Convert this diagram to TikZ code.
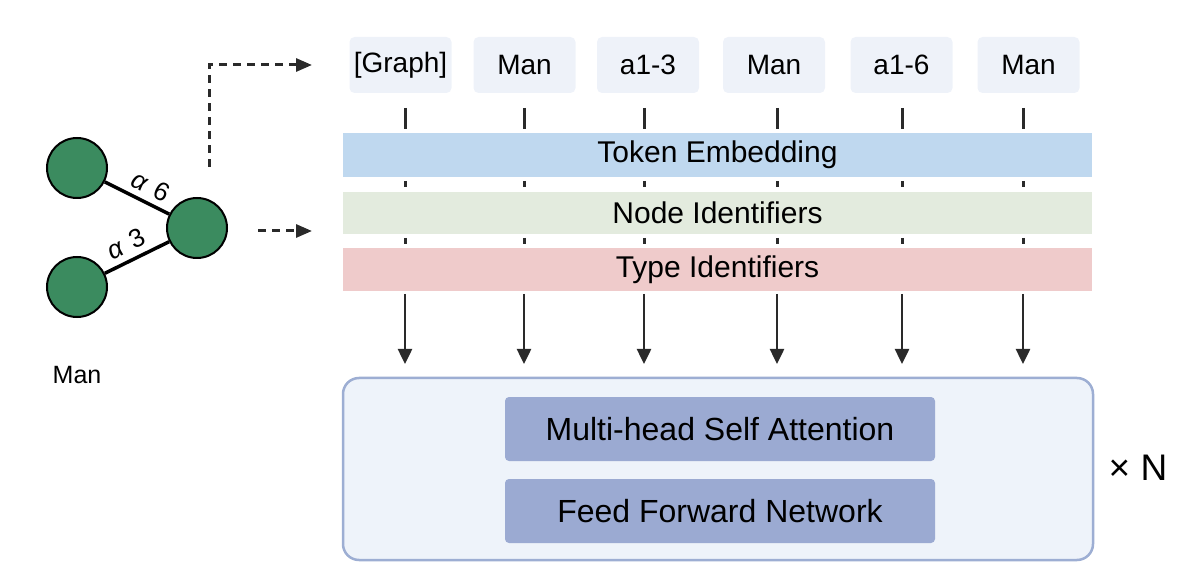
\documentclass[tikz,border=0pt]{standalone}
\usepackage{fontspec}
\setmainfont{Liberation Sans}
\usetikzlibrary{arrows.meta}
\definecolor{tokfill}{HTML}{EEF2F9}
\definecolor{embfill}{HTML}{BFD8EF}
\definecolor{nodefill}{HTML}{E3EBDE}
\definecolor{typefill}{HTML}{EFCBCB}
\definecolor{bigfill}{HTML}{EEF3FA}
\definecolor{bigdraw}{HTML}{9DAED3}
\definecolor{innerfill}{HTML}{9BAAD2}
\definecolor{graphgreen}{HTML}{3B8B5F}
\definecolor{darkline}{HTML}{2A2A2A}
\tikzset{
  tok/.style={fill=tokfill, rounded corners=5pt, minimum width=102pt, minimum height=56pt, inner sep=0pt, font=\fontsize{28}{30}\selectfont},
  bar/.style={minimum width=749pt, inner sep=0pt, font=\fontsize{30}{32}\selectfont},
  inner/.style={fill=innerfill, rounded corners=4pt, minimum width=430pt, minimum height=64pt, inner sep=0pt, font=\fontsize{32}{34}\selectfont},
  gnode/.style={circle, fill=graphgreen, draw=black, line width=2pt, minimum size=60pt, inner sep=0pt},
  gedge/.style={line width=3.5pt, black},
  tick/.style={line width=3pt, darkline},
  varr/.style={line width=2.5pt, darkline, -{Triangle[length=15pt, width=14pt]}},
  darr/.style={line width=3pt, darkline, dash pattern=on 8pt off 6pt, -{Triangle[length=16pt, width=13pt]}},
  elabel/.style={font=\fontsize{26}{28}\selectfont, sloped, above, inner sep=0pt, yshift=6pt}
}
\begin{document}
\begin{tikzpicture}[x=1pt, y=-1pt]
\useasboundingbox (0,0) rectangle (1200,585);
% left graph
\node[gnode] (n1) at (77,168) {};
\node[gnode] (n2) at (197,228) {};
\node[gnode] (n3) at (77,287) {};
\draw[gedge] (n1) -- node[elabel, pos=0.6] {\textit{α}\,\,6} (n2);
\draw[gedge] (n3) -- node[elabel, pos=0.45] {\textit{α}\,\,3} (n2);
\node[font=\fontsize{25}{28}\selectfont] (gname) at (77,375) {Man};
% dashed arrows
\coordinate (d1s) at (209,167);
\coordinate (d1c) at (209,65);
\coordinate (d1e) at (312,65);
\coordinate (d2s) at (258,231);
\coordinate (d2e) at (312,231);
\draw[darr] (d1s) -- (d1c) -- (d1e);
\draw[darr] (d2s) -- (d2e);
% tokens
\node[tok] (t1) at (400.5,65) {[Graph]};
\node[tok] (t2) at (524.5,65) {Man};
\node[tok] (t3) at (648,65) {a1-3};
\node[tok] (t4) at (774,65) {Man};
\node[tok] (t5) at (901.5,65) {a1-6};
\node[tok] (t6) at (1028.5,65) {Man};
% bars
\node[bar, fill=embfill, minimum height=44pt] (emb) at (717.5,155) {Token Embedding};
\node[bar, fill=nodefill, minimum height=42pt] (nid) at (717.5,213) {Node Identifiers};
\node[bar, fill=typefill, minimum height=43pt] (tid) at (717.5,269.5) {Type Identifiers};
% encoder block
\draw[bigdraw, fill=bigfill, line width=2.5pt, rounded corners=16pt] (343,378) rectangle (1093,560);
\node[inner] (mhsa) at (720,429) {Multi-head Self Attention};
\node[inner] (ffn) at (720,511) {Feed Forward Network};
\node[font=\fontsize{37}{39}\selectfont] (xn) at (1138,468) {× N};
% ticks and arrows
\foreach \x in {405,524,644,777,902,1023}{
  \draw[tick] (\x,108) -- (\x,129);
  \draw[tick] (\x,181) -- (\x,187);
  \draw[tick] (\x,238) -- (\x,244);
  \draw[varr] (\x,294) -- (\x,364);
}
\end{tikzpicture}
\end{document}
